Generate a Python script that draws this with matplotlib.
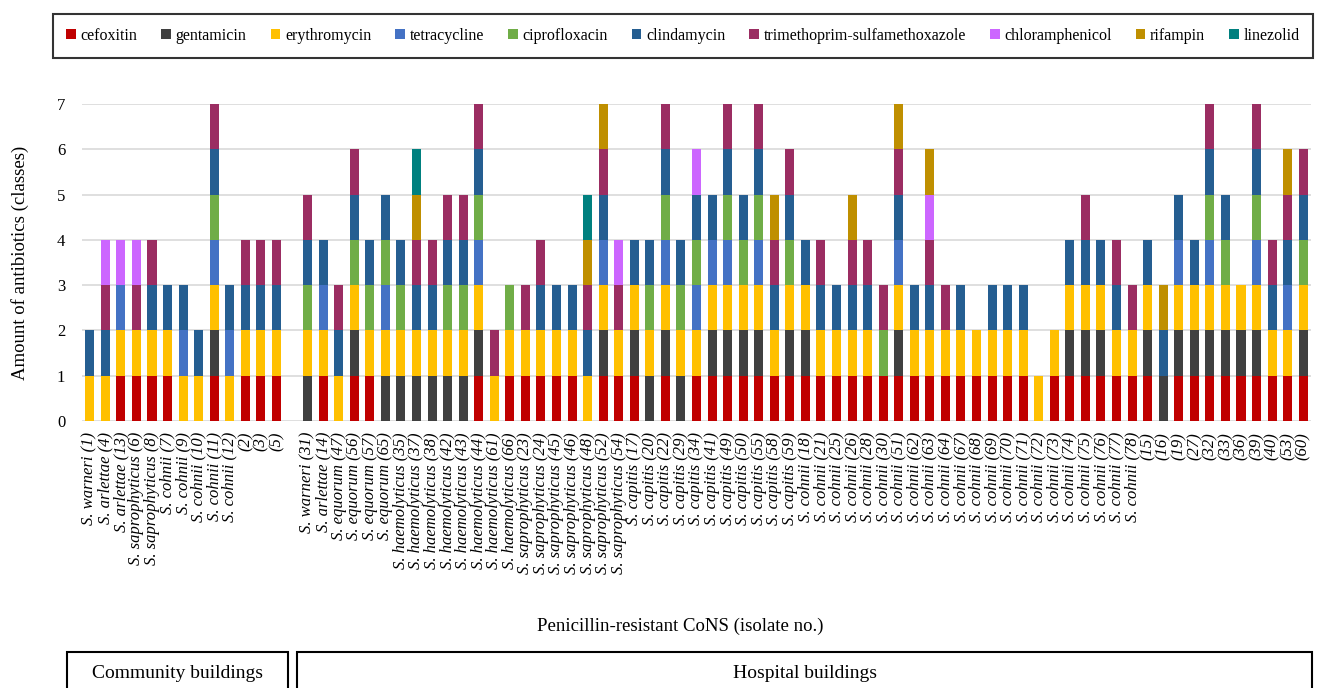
import numpy as np
import matplotlib
matplotlib.use("Agg")
import matplotlib.pyplot as plt
from matplotlib.patches import Patch, Rectangle

plt.rcParams["font.family"] = ["Liberation Serif", "DejaVu Serif"]

# antibiotic classes, in stacking order
drugs = ["FOX", "GEN", "ERY", "TET", "CIP", "CLI", "SXT", "CHL", "RIF", "LZD"]
drug_names = ["cefoxitin", "gentamicin", "erythromycin", "tetracycline", "ciprofloxacin",
              "clindamycin", "trimethoprim-sulfamethoxazole", "chloramphenicol",
              "rifampin", "linezolid"]
drug_colors = ["#C00000", "#404040", "#FFC000", "#4472C4", "#70AD47",
               "#255E91", "#9B2D62", "#CC66FF", "#BF8F00", "#00807F"]

# community buildings isolates
community_labels = ["S. warneri (1)", "S. arlettae (4)", "S. arlettae (13)",
                    "S. saprophyticus (6)", "S. saprophyticus (8)", "S. cohnii (7)",
                    "S. cohnii (9)", "S. cohnii (10)", "S. cohnii (11)", "S. cohnii (12)",
                    "(2)", "(3)", "(5)"]
community_profiles = ["ERY CLI", "ERY CLI SXT CHL", "FOX ERY TET CHL", "FOX ERY SXT CHL",
                      "FOX ERY CLI SXT", "FOX ERY CLI", "ERY TET CLI", "ERY CLI",
                      "FOX GEN ERY TET CIP CLI SXT", "ERY TET CLI",
                      "FOX ERY CLI SXT", "FOX ERY CLI SXT", "FOX ERY CLI SXT"]

# hospital buildings isolates
hospital_labels = ["S. warneri (31)", "S. arlettae (14)", "S. equorum (47)", "S. equorum (56)",
                   "S. equorum (57)", "S. equorum (65)", "S. haemolyticus (35)",
                   "S. haemolyticus (37)", "S. haemolyticus (38)", "S. haemolyticus (42)",
                   "S. haemolyticus (43)", "S. haemolyticus (44)", "S. haemolyticus (61)",
                   "S. haemolyticus (66)", "S. saprophyticus (23)", "S. saprophyticus (24)",
                   "S. saprophyticus (45)", "S. saprophyticus (46)", "S. saprophyticus (48)",
                   "S. saprophyticus (52)", "S. saprophyticus (54)", "S. capitis (17)",
                   "S. capitis (20)", "S. capitis (22)", "S. capitis (29)", "S. capitis (34)",
                   "S. capitis (41)", "S. capitis (49)", "S. capitis (50)", "S. capitis (55)",
                   "S. capitis (58)", "S. capitis (59)", "S. cohnii (18)", "S. cohnii (21)",
                   "S. cohnii (25)", "S. cohnii (26)", "S. cohnii (28)", "S. cohnii (30)",
                   "S. cohnii (51)", "S. cohnii (62)", "S. cohnii (63)", "S. cohnii (64)",
                   "S. cohnii (67)", "S. cohnii (68)", "S. cohnii (69)", "S. cohnii (70)",
                   "S. cohnii (71)", "S. cohnii (72)", "S. cohnii (73)", "S. cohnii (74)",
                   "S. cohnii (75)", "S. cohnii (76)", "S. cohnii (77)", "S. cohnii (78)",
                   "(15)", "(16)", "(19)", "(27)", "(32)", "(33)", "(36)", "(39)",
                   "(40)", "(53)", "(60)"]
hospital_profiles = ["GEN ERY CIP CLI SXT", "FOX ERY TET CLI", "ERY CLI SXT",
                     "FOX GEN ERY CIP CLI SXT", "FOX ERY CIP CLI", "GEN ERY TET CIP CLI",
                     "GEN ERY CIP CLI", "GEN ERY CLI SXT RIF LZD", "GEN ERY CLI SXT",
                     "GEN ERY CIP CLI SXT", "GEN ERY CIP CLI SXT",
                     "FOX GEN ERY TET CIP CLI SXT", "ERY SXT", "FOX ERY CIP",
                     "FOX ERY SXT", "FOX ERY CLI SXT", "FOX ERY CLI", "FOX ERY CLI",
                     "ERY CLI SXT RIF LZD", "FOX GEN ERY TET CLI SXT RIF", "FOX ERY SXT CHL",
                     "FOX GEN ERY CLI", "GEN ERY CIP CLI", "FOX GEN ERY TET CIP CLI SXT",
                     "GEN ERY CIP CLI", "FOX ERY TET CIP CLI CHL", "FOX GEN ERY TET CLI",
                     "FOX GEN ERY TET CIP CLI SXT", "FOX GEN ERY CIP CLI",
                     "FOX GEN ERY TET CIP CLI SXT", "FOX ERY CLI SXT RIF",
                     "FOX GEN ERY CIP CLI SXT", "FOX GEN ERY CLI", "FOX ERY CLI SXT",
                     "FOX ERY CLI", "FOX ERY CLI SXT RIF", "FOX ERY CLI SXT", "FOX CIP SXT",
                     "FOX GEN ERY TET CLI SXT RIF", "FOX ERY CLI", "FOX ERY CLI SXT CHL RIF",
                     "FOX ERY SXT", "FOX ERY CLI", "FOX ERY", "FOX ERY CLI", "FOX ERY CLI",
                     "FOX ERY CLI", "ERY", "FOX ERY", "FOX GEN ERY CLI",
                     "FOX GEN ERY CLI SXT", "FOX GEN ERY CLI", "FOX ERY CLI SXT",
                     "FOX ERY SXT", "FOX GEN ERY CLI", "GEN CLI RIF", "FOX GEN ERY TET CLI",
                     "FOX GEN ERY CLI", "FOX GEN ERY TET CIP CLI SXT", "FOX GEN ERY CIP CLI",
                     "FOX GEN ERY", "FOX GEN ERY TET CIP CLI SXT", "FOX ERY CLI SXT",
                     "FOX ERY TET CLI SXT RIF", "FOX GEN ERY CIP CLI SXT"]

# one empty slot between the two groups
labels = community_labels + [""] + hospital_labels
profiles = community_profiles + [""] + hospital_profiles
x = np.arange(len(labels))

# 0/1 matrix: resistant or not, per drug and isolate
mat = np.array([[1.0 if d in p.split() else 0.0 for p in profiles] for d in drugs])

W, H = 1321, 688
fig = plt.figure(figsize=(W / 100, H / 100), dpi=100)
ax = fig.add_axes([82 / W, 1 - 421 / H, (1311 - 82) / W, (421 - 104) / H])

bottom = np.zeros(len(labels))
for i, d in enumerate(drugs):
    ax.bar(x, mat[i], width=0.58, bottom=bottom, color=drug_colors[i], zorder=3)
    bottom += mat[i]

ax.set_xlim(-0.5, len(labels) - 0.5)
ax.set_ylim(0, 7)
ax.set_yticks(range(8))
ax.yaxis.grid(True, color="#D9D9D9", lw=1.2, zorder=0)
for s in ax.spines.values():
    s.set_visible(False)
ax.tick_params(axis="both", length=0)
ax.tick_params(axis="y", labelsize=12, pad=12)
ax.set_xticks(x)
ax.set_xticklabels(labels, rotation=90, fontsize=12, fontstyle="italic", va="top", ha="center")
ax.tick_params(axis="x", pad=8)
ax.set_ylabel("Amount of antibiotics (classes)", fontsize=13.5, labelpad=20)

fig.text(680 / W, 1 - 626 / H, "Penicillin-resistant CoNS (isolate no.)",
         ha="center", va="center", fontsize=13.5)

# legend across the top
handles = [Patch(facecolor=c, edgecolor="none") for c in drug_colors]
leg = fig.legend(handles, drug_names, loc="center", bbox_to_anchor=(683 / W, 1 - 36 / H),
                 ncol=10, fontsize=11.5, frameon=True, fancybox=False,
                 handlelength=0.6, handleheight=0.6, handletextpad=0.3,
                 columnspacing=1.5, borderpad=0.85)
leg.get_frame().set_edgecolor("black")
leg.get_frame().set_linewidth(1.5)

# group boxes at the bottom
for x0, x1, txt, cx in [(67, 288, "Community buildings", 178),
                        (297, 1312, "Hospital buildings", 805)]:
    fig.add_artist(Rectangle((x0 / W, -0.05), (x1 - x0) / W, 0.05 + (688 - 652) / H,
                             transform=fig.transFigure, fill=False, edgecolor="black",
                             lw=1.5))
    fig.text(cx / W, 1 - 673 / H, txt, ha="center", va="center", fontsize=14)

fig.savefig("out.png", dpi=100)
